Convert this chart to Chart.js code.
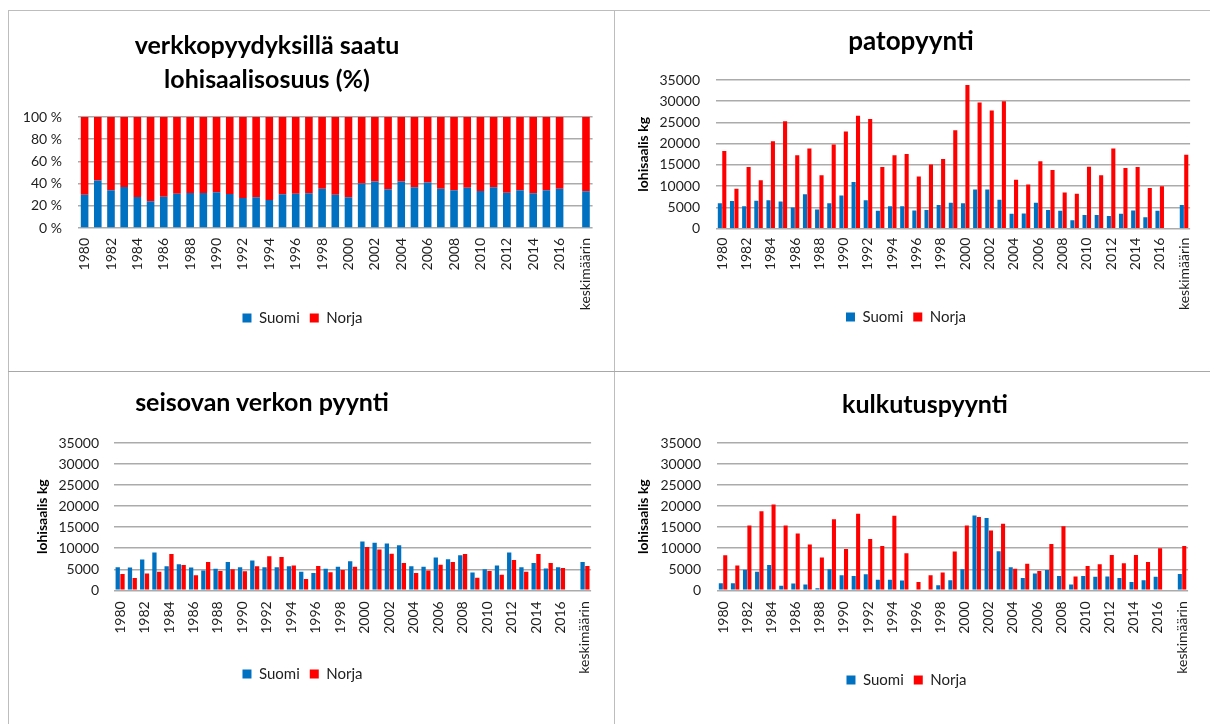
<!DOCTYPE html>
<html>
<head>
<meta charset="utf-8">
<script src="https://cdn.jsdelivr.net/npm/chart.js@4.4.0/dist/chart.umd.min.js"></script>
<style>
  html, body { margin: 0; padding: 0; background: #fff; }
  body { width: 1210px; height: 724px; position: relative; overflow: hidden; font-family: Lato, sans-serif; }
  .frame { position: absolute; background: #bdbdbd; }
  canvas { position: absolute; }
  .ttl { position: absolute; transform: translateX(-50%); white-space: nowrap; font-weight: bold; color: #000; text-align: center; }
</style>
</head>
<body>
<div class="frame" style="left:8px;top:10px;width:1202px;height:1px;"></div>
<div class="frame" style="left:8px;top:10px;width:1px;height:714px;"></div>
<div class="frame" style="left:614px;top:10px;width:1px;height:714px;"></div>
<div class="frame" style="left:8px;top:371px;width:1202px;height:1px;background:#a8a8a8;"></div>

<canvas id="c1" width="604" height="359" style="left:9px;top:11px;"></canvas>
<canvas id="c2" width="595" height="359" style="left:615px;top:11px;"></canvas>
<canvas id="c3" width="604" height="352" style="left:9px;top:372px;"></canvas>
<canvas id="c4" width="595" height="352" style="left:615px;top:372px;"></canvas>

<div class="ttl" style="left:267px;top:27px;font-size:25px;line-height:34px;">verkkopyydyksillä saatu<br>lohisaalisosuus (%)</div>
<div class="ttl" style="left:911px;top:23px;font-size:26px;line-height:34px;">patopyynti</div>
<div class="ttl" style="left:262px;top:384px;font-size:25px;line-height:34px;">seisovan verkon pyynti</div>
<div class="ttl" style="left:925px;top:386px;font-size:25px;line-height:34px;">kulkutuspyynti</div>

<script>
// ---- categories ----
const categories = ['1980','1981','1982','1983','1984','1985','1986','1987','1988','1989',
  '1990','1991','1992','1993','1994','1995','1996','1997','1998','1999',
  '2000','2001','2002','2003','2004','2005','2006','2007','2008','2009',
  '2010','2011','2012','2013','2014','2015','2016','','keskimäärin'];

const seriesNames = ['Suomi', 'Norja'];

// ---- verkkopyydyksillä saatu lohisaalisosuus (%) ----
const shareSuomi = [30.0,42.9,33.9,36.9,27.9,24.0,28.2,30.9,31.5,31.5,32.1,30.6,27.0,27.6,25.2,30.3,30.9,31.2,35.4,30.0,
  27.6,40.2,42.0,34.8,42.0,36.6,41.1,35.4,33.9,36.3,33.3,36.6,31.8,33.9,31.2,33.9,35.4,null,33.0];
const shareNorja = [70.0,57.1,66.1,63.1,72.1,76.0,71.8,69.1,68.5,68.5,67.9,69.4,73.0,72.4,74.8,69.7,69.1,68.8,64.6,70.0,
  72.4,59.8,58.0,65.2,58.0,63.4,58.9,64.6,66.1,63.7,66.7,63.4,68.2,66.1,68.8,66.1,64.6,null,67.0];

// ---- patopyynti (kg) ----
const patoSuomi = [6000,6500,5300,6600,6700,6400,5000,8100,4500,6000,7800,11000,6700,4200,5300,5300,4300,4400,5600,6100,
  6000,9200,9200,6800,3500,3600,6100,4400,4200,2000,3200,3200,3000,3500,4300,2700,4200,null,5600];
const patoNorja = [18300,9400,14500,11400,20600,25300,17300,18900,12600,19800,22900,26600,25800,14500,17300,17600,12300,15100,16400,23200,
  33800,29700,27800,30000,11500,10400,15900,13800,8500,8200,14600,12600,18900,14300,14500,9600,10000,null,17400];

// ---- seisovan verkon pyynti (kg) ----
const seisovaSuomi = [5500,5400,7300,9000,5700,6200,5400,4700,5100,6700,5500,7100,5500,5500,5700,4400,4100,5100,5600,6900,
  11600,11300,11100,10700,5700,5600,7800,7400,8300,4200,5000,5900,9000,5500,6500,5200,5500,null,6700];
const seisovaNorja = [3900,2900,4000,4400,8600,6000,3600,6700,4600,5000,4500,5700,8100,7900,5900,2700,5800,4300,4800,5600,
  10300,9700,8700,6500,4100,4700,6100,6700,8600,3000,4600,3700,7200,4400,8600,6500,5300,null,5800];

// ---- kulkutuspyynti (kg) ----
const kulkuSuomi = [1700,1700,4900,4400,6000,1100,1600,1400,500,5000,3600,3400,3800,2500,2500,2300,200,200,1200,2400,
  5000,17800,17200,9300,5500,2900,4000,4800,3400,1400,3400,3200,3300,2900,2000,2400,3200,null,3900];
const kulkuNorja = [8300,5900,15400,18800,20400,15400,13500,10900,7800,16900,9800,18200,12200,10500,17700,8800,2000,3600,4200,9200,
  15400,17400,14200,15800,5100,6300,4600,11000,15200,3300,5800,6200,8400,6400,8400,6700,10000,null,10500];

const yTicksKg = { min: 0, max: 35000, step: 5000 };
const yTicksPct = { min: 0, max: 100, step: 20 };
const yAxisTitle = 'lohisaalis kg';

const BLUE = '#0070C0', RED = '#FF0000', GRID = '#ababab', TXT = '#1e1e1e';
Chart.defaults.font.family = 'Lato, sans-serif';
Chart.defaults.color = TXT;

// moves the legend up to sit right under the long rotated category labels
const legendShift = {
  id: 'legendShift',
  afterLayout(chart, args, opts) {
    const lg = chart.legend;
    if (!lg) return;
    const h = lg.height;
    lg.top = chart.chartArea.bottom + opts.dy;
    lg.bottom = lg.top + h;
  }
};

function makeChart(id, cfg) {
  const ctx = document.getElementById(id);
  return new Chart(ctx, {
    type: 'bar',
    plugins: [legendShift],
    data: {
      labels: categories,
      datasets: [
        { label: seriesNames[0], data: cfg.a, backgroundColor: BLUE, borderWidth: 0,
          categoryPercentage: cfg.cat, barPercentage: cfg.bar },
        { label: seriesNames[1], data: cfg.b, backgroundColor: RED, borderWidth: 0,
          categoryPercentage: cfg.cat, barPercentage: cfg.bar }
      ]
    },
    options: {
      responsive: false,
      animation: false,
      events: [],
      layout: { padding: cfg.pad },
      plugins: {
        title: { display: false },
        tooltip: { enabled: false },
        legendShift: { dy: cfg.ldy },
        legend: {
          display: true,
          position: 'bottom',
          labels: { boxWidth: 9, boxHeight: 9, padding: 10, font: { size: 15 }, color: TXT }
        }
      },
      scales: {
        x: {
          stacked: cfg.stacked,
          grid: { display: false, drawTicks: false },
          border: { display: false },
          ticks: {
            autoSkip: false, minRotation: 90, maxRotation: 90, padding: cfg.xpad,
            font: { size: 14 }, color: TXT,
            callback: (v, i) => (i % 2 === 0 ? categories[i] : '')
          },
          afterFit: s => { s.height = 95; }
        },
        y: {
          stacked: cfg.stacked,
          min: cfg.yt.min, max: cfg.yt.max,
          grid: { color: GRID, lineWidth: 1.5, drawTicks: false },
          border: { display: false },
          ticks: {
            stepSize: cfg.yt.step, padding: cfg.ypad, font: { size: 14 }, color: TXT,
            callback: cfg.pct ? (v => v + ' %') : (v => String(v))
          },
          title: cfg.ytitle ? { display: true, text: yAxisTitle, font: { size: 14, weight: 'bold' }, color: '#000',
            padding: { top: cfg.ytp, bottom: 0 } } : { display: false },
          afterFit: s => { s.width = cfg.yw; }
        }
      }
    }
  });
}

makeChart('c1', { a: shareSuomi, b: shareNorja, stacked: true, pct: true, yt: yTicksPct,
  cat: 0.8, bar: 0.72, pad: { left: 0, right: 17, top: 106, bottom: 12 },
  ldy: 72.5, xpad: 10, yw: 69, ypad: 16, ytitle: false });

makeChart('c2', { a: patoSuomi, b: patoNorja, stacked: false, pct: false, yt: yTicksKg,
  cat: 0.73, bar: 0.92, pad: { left: 0, right: 13, top: 69, bottom: 11.3 },
  ldy: 70.8, xpad: 9, yw: 101, ypad: 16, ytitle: true, ytp: 19.6 });

makeChart('c3', { a: seisovaSuomi, b: seisovaNorja, stacked: false, pct: false, yt: yTicksKg,
  cat: 0.78, bar: 0.9, pad: { left: 0, right: 17, top: 71, bottom: 3.7 },
  ldy: 66.2, xpad: 11, yw: 105, ypad: 15, ytitle: true, ytp: 24.6 });

makeChart('c4', { a: kulkuSuomi, b: kulkuNorja, stacked: false, pct: false, yt: yTicksKg,
  cat: 0.73, bar: 0.92, pad: { left: 0, right: 12, top: 71, bottom: 3.7 },
  ldy: 72.2, xpad: 11, yw: 102, ypad: 16, ytitle: true, ytp: 19.6 });
</script>
</body>
</html>
